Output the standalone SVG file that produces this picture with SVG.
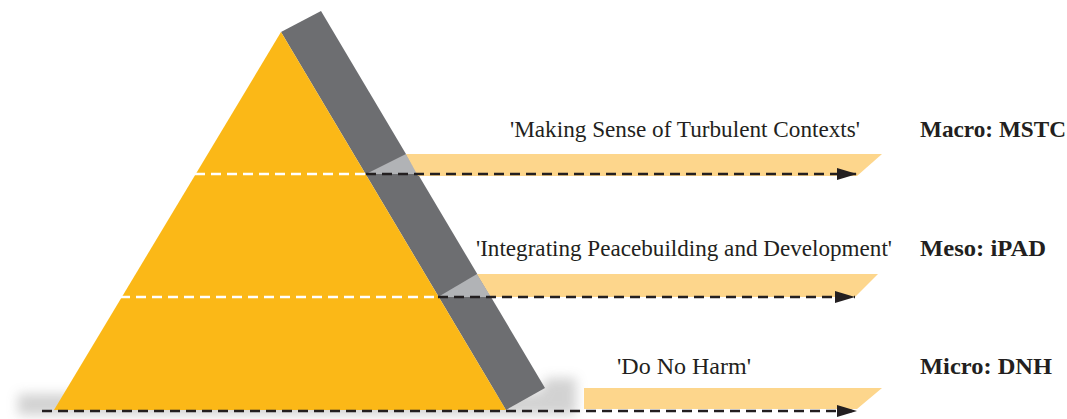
<svg xmlns="http://www.w3.org/2000/svg" width="1067" height="419" viewBox="0 0 1067 419">
<defs>
<filter id="blur" x="-10%" y="-100%" width="120%" height="300%"><feGaussianBlur stdDeviation="6"/></filter>
<marker id="ah" markerWidth="22" markerHeight="14" refX="20" refY="7" orient="auto" markerUnits="userSpaceOnUse"><path d="M0,1 L20,7 L0,13 Z" fill="#231F20"/></marker>
<style>
.yel{fill:#FBB817}
.gry{fill:#6D6E71}
.lg{fill:#B1B3B6}
.band{fill:#FDD68C}
.wd{stroke:#FFFFFF;stroke-width:2.5;stroke-dasharray:10 6;fill:none}
.bd{stroke:#231F20;stroke-width:2.5;stroke-dasharray:10 6;fill:none}
.lbl{font-family:"Liberation Serif","Times New Roman",serif;font-size:23px;fill:#231F20}
.lvl{font-family:"Liberation Serif","Times New Roman",serif;font-size:23.5px;font-weight:bold;fill:#231F20}
</style>
</defs>
<rect width="1067" height="419" fill="#FFFFFF"/>
<g id="shadow">
<polygon points="18,394 540,392 546,378 576,378 576,415 18,415" fill="#8A8A8A" opacity="0.38" filter="url(#blur)"/>
</g>
<g id="pyramid">
<polygon class="gry" points="281,32 321,11 545,388 506,410"/>
<polygon class="yel" points="281,32 506,410 54,410"/>
<polygon class="lg" points="366,174 406,154 418,174"/>
<polygon class="lg" points="438,297 477,274 491,297"/>
</g>
<g id="bands">
<polygon class="band" points="406,154 882,154 857,176 418,176"/>
<polygon class="band" points="477,274 878,274 855,297 491,297"/>
<polygon class="band" points="584,388 882,388 857,409 584,409"/>
</g>
<g id="connectors">
<line class="wd" x1="195" y1="174" x2="366" y2="174"/>
<line class="bd" x1="366" y1="174" x2="857" y2="174" marker-end="url(#ah)"/>
<line class="wd" x1="120" y1="297" x2="438" y2="297"/>
<line class="bd" x1="438" y1="297" x2="855" y2="297" marker-end="url(#ah)"/>
<line class="bd" x1="42" y1="411" x2="857" y2="411" marker-end="url(#ah)"/>
</g>
<g id="macro">
<text class="lbl" x="510" y="137" textLength="350" lengthAdjust="spacingAndGlyphs">'Making Sense of Turbulent Contexts'</text>
<text class="lvl" x="920" y="137" textLength="146" lengthAdjust="spacingAndGlyphs">Macro: MSTC</text>
</g>
<g id="meso">
<text class="lbl" x="476" y="256" textLength="416" lengthAdjust="spacingAndGlyphs">'Integrating Peacebuilding and Development'</text>
<text class="lvl" x="920" y="256" textLength="126" lengthAdjust="spacingAndGlyphs">Meso: iPAD</text>
</g>
<g id="micro">
<text class="lbl" x="617" y="374" textLength="134" lengthAdjust="spacingAndGlyphs">'Do No Harm'</text>
<text class="lvl" x="920" y="374" textLength="132" lengthAdjust="spacingAndGlyphs">Micro: DNH</text>
</g>
</svg>
